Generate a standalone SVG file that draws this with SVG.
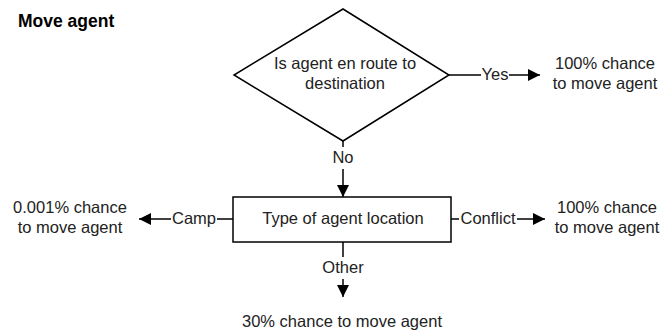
<svg xmlns="http://www.w3.org/2000/svg" width="661" height="333" viewBox="0 0 661 333">
<style>
text{font-family:"Liberation Sans",Arial,sans-serif;font-size:16.5px;fill:#222;text-anchor:middle}
.t{font-weight:bold;font-size:17.5px;fill:#000;text-anchor:start}
.s{fill:#fff;stroke:#000;stroke-width:1.5}
.c{fill:none;stroke:#000;stroke-width:1.5}
</style>
<defs>
<marker id="a" viewBox="0 0 10 10" refX="10" refY="5" markerWidth="10" markerHeight="8" markerUnits="strokeWidth" orient="auto">
<path d="M0,0 L10,5 L0,10 Z" fill="#000"/>
</marker>
</defs>
<rect width="661" height="333" fill="#fff"/>
<text class="t" x="18" y="27">Move agent</text>
<g id="connectors">
<path class="c" d="M449,75 H481"/>
<path class="c" d="M509,75 H540" marker-end="url(#a)"/>
<text x="495" y="80">Yes</text>
<path class="c" d="M343,141 V147"/>
<path class="c" d="M343,169 V197" marker-end="url(#a)"/>
<text x="343" y="163">No</text>
<path class="c" d="M233,219 H217"/>
<path class="c" d="M171,219 H139" marker-end="url(#a)"/>
<text x="194" y="224">Camp</text>
<path class="c" d="M451,219 H459"/>
<path class="c" d="M517,219 H545" marker-end="url(#a)"/>
<text x="488" y="224">Conflict</text>
<path class="c" d="M343,242 V257"/>
<path class="c" d="M343,279 V297" marker-end="url(#a)"/>
<text x="343" y="273">Other</text>
</g>
<g id="decision">
<polygon class="s" points="343,9 449,75 343,141 234,75"/>
<text x="345" y="69">Is agent en route to</text>
<text x="345" y="89">destination</text>
</g>
<g id="location">
<rect class="s" x="233" y="197" width="218" height="45"/>
<text x="343" y="224">Type of agent location</text>
</g>
<g id="yes-result">
<text x="605" y="69">100% chance</text>
<text x="605" y="89">to move agent</text>
</g>
<g id="camp-result">
<text x="70" y="213">0.001% chance</text>
<text x="70" y="233">to move agent</text>
</g>
<g id="conflict-result">
<text x="607" y="213">100% chance</text>
<text x="607" y="233">to move agent</text>
</g>
<g id="other-result">
<text x="342" y="327">30% chance to move agent</text>
</g>
</svg>
